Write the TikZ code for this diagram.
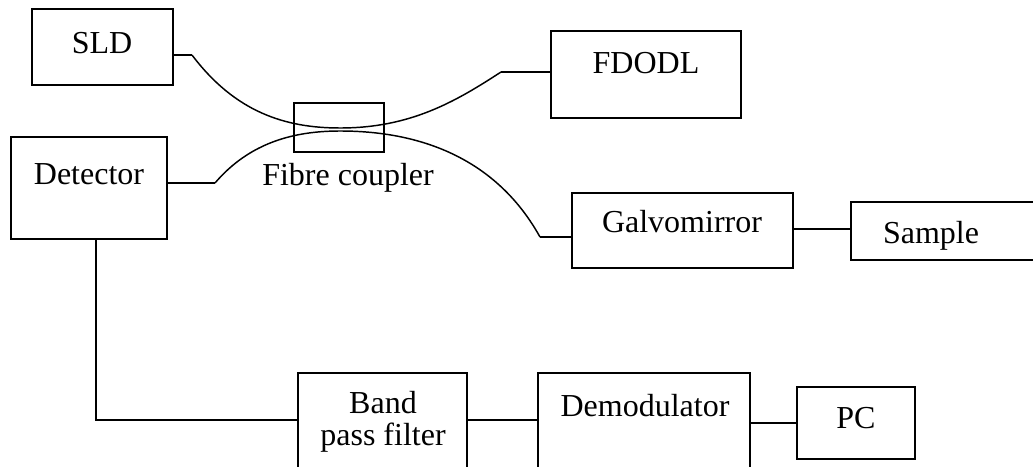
\documentclass[tikz,border=0pt]{standalone}
\usepackage{fontspec}
\setmainfont{Liberation Serif}
\usetikzlibrary{fit}
\begin{document}
\begin{tikzpicture}[x=0.75pt,y=-0.75pt,
  box/.style={draw=black,line width=1.4pt,inner sep=0pt},
  txt/.style={font=\fontsize{24}{28}\selectfont,inner sep=0pt,align=center},
  wire/.style={draw=black,line width=1.4pt},
  fibre/.style={draw=black,line width=1.1pt}]
\useasboundingbox (0,0) rectangle (1033,467);
\clip (0,0) rectangle (1033,467);
% boxes
\node[box,fit={(32,9) (173,85)}] (sld) {};
\node[box,fit={(551,31) (741,118)}] (fdodl) {};
\node[box,fit={(294,103) (384,152)},line width=1.1pt] (coupler) {};
\node[box,fit={(11,137) (167,239)}] (det) {};
\node[box,fit={(572,193) (793,268)}] (galvo) {};
\node[box,fit={(851,202) (1045,260)}] (sample) {};
\node[box,fit={(298,373) (467,485)}] (bpf) {};
\node[box,fit={(538,373) (750,485)}] (demod) {};
\node[box,fit={(797,387) (915,459)}] (pc) {};
% texts
\node[txt] (tsld) at (102,43) {SLD};
\node[txt] (tfdodl) at (646,63) {FDODL};
\node[txt] (tcoup) at (348,178) {Fibre coupler};
\node[txt] (tdet) at (89,174) {Detector};
\node[txt] (tgalvo) at (682,222) {Galvomirror};
\node[txt] (tsample) at (931,236) {Sample};
\node[txt] (tband) at (383,403) {Band};
\node[txt] (tpass) at (383,438) {pass filter};
\node[txt] (tdemod) at (645,406) {Demodulator};
\node[txt] (tpc) at (856,418) {PC};
% coordinates
\coordinate (a1) at (192,55);
\coordinate (a2) at (501,72);
\coordinate (b1) at (215,183);
\coordinate (b2) at (540,237);
\coordinate (corner) at (96,420);
% fibres
\draw[wire] (sld.east |- a1) -- (a1);
\draw[fibre] (a1) .. controls (235,112) and (285,128) .. (340,128)
  .. controls (410,128) and (455,102) .. (a2);
\draw[wire] (a2) -- (fdodl.west |- a2);
\draw[wire] (det.east |- b1) -- (b1);
\draw[fibre] (b1) .. controls (250,142) and (295,131) .. (340,131)
  .. controls (430,131) and (500,165) .. (b2);
\draw[wire] (b2) -- (galvo.west |- b2);
\draw[wire] (galvo.east |- 0,229) -- (sample.west |- 0,229);
% electrical
\draw[wire] (det.south -| corner) -- (corner) -- (bpf.west |- corner);
\draw[wire] (bpf.east |- corner) -- (demod.west |- corner);
\draw[wire] (demod.east |- pc.west) -- (pc.west);
\end{tikzpicture}
\end{document}
